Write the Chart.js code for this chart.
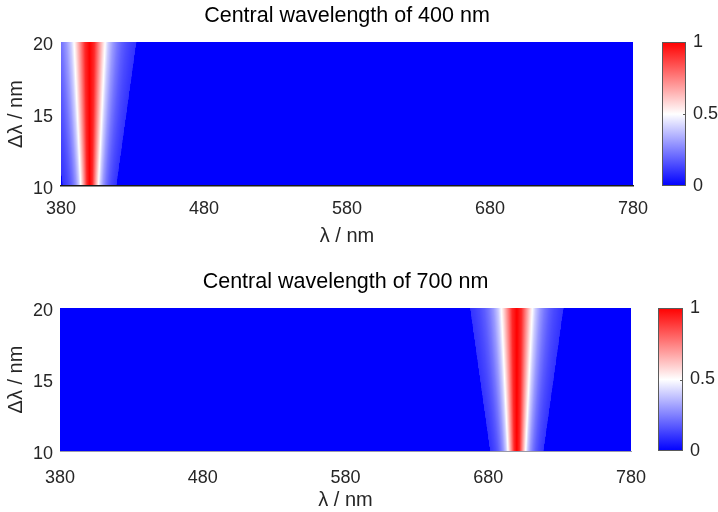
<!DOCTYPE html>
<html>
<head>
<meta charset="utf-8">
<script src="https://cdn.jsdelivr.net/npm/chart.js@4/dist/chart.umd.min.js"></script>
<style>
  html, body { margin: 0; padding: 0; background: #fff; }
  #wrap { position: relative; width: 718px; height: 512px; }
  .panel { position: absolute; left: 0; width: 718px; height: 256px; }
</style>
</head>
<body>
<div id="wrap">
  <div class="panel" style="top:0"><canvas id="c1" width="718" height="256"></canvas></div>
  <div class="panel" style="top:256px"><canvas id="c2" width="718" height="256"></canvas></div>
</div>
<script>
// data
const centralWavelengths = [400, 700];
const panelTitles = ["Central wavelength of 400 nm", "Central wavelength of 700 nm"];
const wavelengthTicks = [380, 480, 580, 680, 780];
const bandwidthTicks = [10, 15, 20];
const colorbarTicks = [0, 0.5, 1];

// half width (nm) where the band stops, read at the bottom and top rows
const bandwidthRows = [10, 20];
const bandEdgeNm = [18.7, 32.7];

// response across the band, offset given as a fraction of that half width
const profileOffset = [0, 0.1, 0.2, 0.3, 0.4, 0.5, 0.6, 0.7, 0.8, 0.9, 1.0];
const profileValue  = [1, 0.92, 0.73, 0.55, 0.40, 0.30, 0.23, 0.18, 0.145, 0.12, 0.10];

const FONT = "'Liberation Sans', Arial, Helvetica, sans-serif";
const TXT = "#262626";
const TITLE_SIZE = 21.5;

// where each panel sits on its canvas
const layouts = [
  { left: 61, right: 633, top: 42, bottom: 186, titleTop: 3, tickPad: 12, labelPad: 8, yPad: 8, cbFrom: 29, cbTo: 53, cbPad: 60, border: "#1a1a1a", borderW: 1.5 },
  { left: 60, right: 631, top: 52, bottom: 195, titleTop: 13, tickPad: 16, labelPad: 0, yPad: 7, cbFrom: 27, cbTo: 52, cbPad: 59, border: "#9a9aa8", borderW: 1 }
];

function colourOf(v) {
  if (v < 0.5) {
    const t = v / 0.5;
    return [Math.round(255 * t), Math.round(255 * t), 255];
  }
  const t = (v - 0.5) / 0.5;
  return [255, Math.round(255 * (1 - t)), Math.round(255 * (1 - t))];
}

function profileAt(u) {
  if (u > 1) return 0;
  for (let i = 1; i < profileOffset.length; i++) {
    if (u <= profileOffset[i]) {
      const a = profileOffset[i - 1], b = profileOffset[i];
      const f = (u - a) / (b - a);
      return profileValue[i - 1] + f * (profileValue[i] - profileValue[i - 1]);
    }
  }
  return profileValue[profileValue.length - 1];
}

function buildImage(center) {
  const xMin = wavelengthTicks[0], xMax = wavelengthTicks[wavelengthTicks.length - 1];
  const yMin = bandwidthTicks[0], yMax = bandwidthTicks[bandwidthTicks.length - 1];
  const step = 0.25, bwStep = 0.1;
  const cols = Math.round((xMax - xMin) / step);
  const rows = Math.round((yMax - yMin) / bwStep);
  const off = document.createElement("canvas");
  off.width = cols; off.height = rows;
  const octx = off.getContext("2d");
  const img = octx.createImageData(cols, rows);
  for (let r = 0; r < rows; r++) {
    const bw = yMax - (r + 0.5) * bwStep;
    const f = (bw - bandwidthRows[0]) / (bandwidthRows[1] - bandwidthRows[0]);
    const edge = bandEdgeNm[0] + f * (bandEdgeNm[1] - bandEdgeNm[0]);
    for (let c = 0; c < cols; c++) {
      const lam = xMin + (c + 0.5) * step;
      const v = profileAt(Math.abs(lam - center) / edge);
      const col = colourOf(v);
      const k = (r * cols + c) * 4;
      img.data[k] = col[0]; img.data[k + 1] = col[1]; img.data[k + 2] = col[2]; img.data[k + 3] = 255;
    }
  }
  octx.putImageData(img, 0, 0);
  return off;
}

const heatmapPlugin = {
  id: "heatmap",
  beforeDraw(chart, args, opts) {
    const { ctx } = chart;
    const xs = chart.scales.x, ys = chart.scales.y, cb = chart.scales.cb;
    const x0 = xs.getPixelForValue(wavelengthTicks[0]);
    const x1 = xs.getPixelForValue(wavelengthTicks[wavelengthTicks.length - 1]);
    const y0 = ys.getPixelForValue(bandwidthTicks[bandwidthTicks.length - 1]);
    const y1 = ys.getPixelForValue(bandwidthTicks[0]);
    ctx.save();
    ctx.imageSmoothingEnabled = true;
    ctx.drawImage(opts.image, x0, y0, x1 - x0, y1 - y0);

    // colour bar
    const bx0 = cb.left + opts.cbFrom, bx1 = cb.left + opts.cbTo;
    const by0 = cb.getPixelForValue(1), by1 = cb.getPixelForValue(0);
    const g = ctx.createLinearGradient(0, by1, 0, by0);
    g.addColorStop(0, "rgb(0,0,255)");
    g.addColorStop(0.5, "rgb(255,255,255)");
    g.addColorStop(1, "rgb(255,0,0)");
    ctx.fillStyle = g;
    ctx.fillRect(bx0, by0, bx1 - bx0, by1 - by0);
    ctx.strokeStyle = "#5a5a5a";
    ctx.lineWidth = 1;
    ctx.strokeRect(bx0 + 0.5, by0 + 0.5, bx1 - bx0 - 1, by1 - by0 - 1);
    ctx.beginPath();
    const ym = Math.round(cb.getPixelForValue(0.5)) + 0.5;
    ctx.moveTo(bx1 - 3, ym); ctx.lineTo(bx1, ym);
    ctx.stroke();
    ctx.restore();
  }
};

const plainLabel = v => String(v);

function makePanel(id, i) {
  const L = layouts[i];
  const H = 256, W = 718;
  return new Chart(document.getElementById(id), {
    type: "scatter",
    data: { datasets: [] },
    plugins: [heatmapPlugin],
    options: {
      responsive: false,
      animation: false,
      layout: { padding: 0 },
      plugins: {
        legend: { display: false },
        tooltip: { enabled: false },
        title: {
          display: true,
          fullSize: false,
          text: panelTitles[i],
          color: "#000",
          font: { family: FONT, size: TITLE_SIZE, weight: "normal" },
          padding: { top: L.titleTop, bottom: L.top - L.titleTop - TITLE_SIZE * 1.2 }
        },
        heatmap: { image: buildImage(centralWavelengths[i]), cbFrom: L.cbFrom, cbTo: L.cbTo }
      },
      scales: {
        x: {
          type: "linear",
          position: "bottom",
          min: wavelengthTicks[0],
          max: wavelengthTicks[wavelengthTicks.length - 1],
          afterBuildTicks: s => { s.ticks = wavelengthTicks.map(v => ({ value: v })); },
          afterFit: s => { s.height = H - L.bottom; },
          grid: { display: false, drawTicks: false },
          border: { display: true, color: L.border, width: L.borderW },
          ticks: { color: TXT, padding: L.tickPad, maxRotation: 0, callback: plainLabel, font: { family: FONT, size: 18 } },
          title: { display: true, text: "λ / nm", color: TXT, font: { family: FONT, size: 20 }, padding: { top: 0, bottom: L.labelPad } }
        },
        y: {
          type: "linear",
          position: "left",
          min: bandwidthTicks[0],
          max: bandwidthTicks[bandwidthTicks.length - 1],
          afterBuildTicks: s => { s.ticks = bandwidthTicks.map(v => ({ value: v })); },
          afterFit: s => { s.width = L.left; },
          grid: { display: false, drawTicks: false },
          border: { display: false },
          ticks: { color: TXT, padding: L.yPad, labelOffset: 3, callback: plainLabel, font: { family: FONT, size: 18 } },
          title: { display: true, text: "Δλ / nm", color: TXT, font: { family: FONT, size: 20 }, padding: { top: 4, bottom: 0 } }
        },
        cb: {
          type: "linear",
          position: "right",
          min: 0,
          max: 1,
          afterBuildTicks: s => { s.ticks = colorbarTicks.map(v => ({ value: v })); },
          afterFit: s => { s.width = W - L.right; },
          // tick marks are hidden; their length only pushes the labels past the bar
          grid: { display: false, drawTicks: true, tickLength: L.cbPad - 2 },
          border: { display: false },
          ticks: { color: TXT, padding: 2, callback: plainLabel, font: { family: FONT, size: 18 } }
        }
      }
    }
  });
}

makePanel("c1", 0);
makePanel("c2", 1);
</script>
</body>
</html>
